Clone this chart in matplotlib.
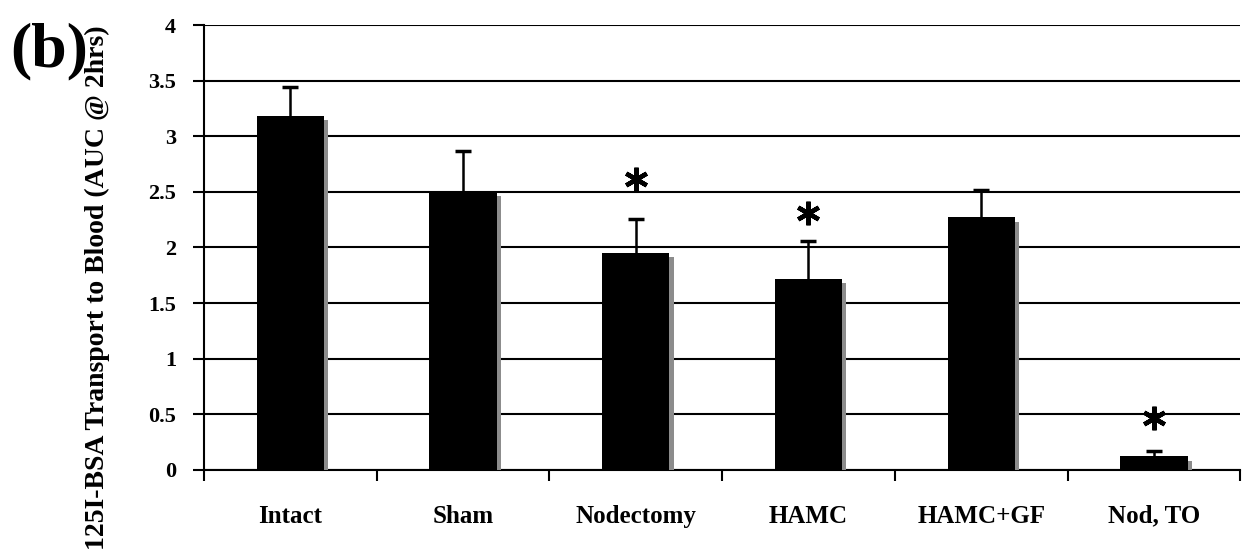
import numpy as np
import matplotlib
matplotlib.use("Agg")
from matplotlib import pyplot as plt
import matplotlib.patheffects as pe

# data
groups = ["Intact", "Sham", "Nodectomy", "HAMC", "HAMC+GF", "Nod, TO"]
means = [3.18, 2.50, 1.95, 1.72, 2.27, 0.12]
errs = [0.26, 0.37, 0.31, 0.34, 0.25, 0.05]
star_y = [np.nan, np.nan, 2.62, 2.31, np.nan, 0.47]   # significance marks
yticks = [0, 0.5, 1, 1.5, 2, 2.5, 3, 3.5, 4]

plt.rcParams['font.family'] = ['Liberation Serif', 'DejaVu Serif']

fig = plt.figure(figsize=(12.44, 5.58), dpi=100)
ax = fig.add_axes([0.164, 0.158, 0.833, 0.797])

x = np.arange(len(groups)) + 0.5
bars = ax.bar(x, means, width=0.39, color="black", zorder=3)
for b in bars:
    b.set_path_effects([pe.SimplePatchShadow(offset=(3, -3), shadow_rgbFace="#8c8c8c", alpha=1.0), pe.Normal()])

# lower half hides inside the bar
ax.errorbar(x, means, yerr=errs, fmt="none",
            ecolor="black", elinewidth=1.8, capsize=6, capthick=2.5, zorder=2.5)

# asterisks
ax.plot(x, star_y, linestyle="none", marker=(6, 2, 0), markersize=17,
        markeredgewidth=3.2, color="black", zorder=4)

ax.set_xlim(0, len(groups))
ax.set_ylim(0, 4)
ax.set_yticks(yticks)
ax.set_yticklabels(["0", "0.5", "1", "1.5", "2", "2.5", "3", "3.5", "4"],
                   fontsize=16, fontweight="bold")
ax.yaxis.grid(True, color="black", linewidth=1.5, zorder=0)
ax.set_axisbelow(True)

ax.set_xticks(np.arange(len(groups) + 1))
ax.set_xticklabels([])
ax.set_xticks(x, minor=True)
ax.set_xticklabels(groups, minor=True, fontsize=18, fontweight="bold")
for lbl in ax.get_xticklabels(minor=True):
    lbl.set_va("baseline")
ax.tick_params(axis="x", which="minor", length=0, pad=38)
ax.tick_params(axis="x", which="major", length=8, width=1.5, direction="out")
ax.tick_params(axis="y", length=8, width=1.5, direction="out", pad=12)

for side in ["top", "right"]:
    ax.spines[side].set_visible(False)
for side in ["left", "bottom"]:
    ax.spines[side].set_linewidth(1.5)

ax.set_ylabel("125I-BSA Transport to Blood (AUC @ 2hrs)", fontsize=20,
              fontweight="bold", va="center")
ax.yaxis.set_label_coords(-0.103, 0.41)

fig.text(0.008, 0.855, "(b)", fontsize=46, fontweight="bold", ha="left", va="bottom")

fig.savefig("out.png", dpi=100)
